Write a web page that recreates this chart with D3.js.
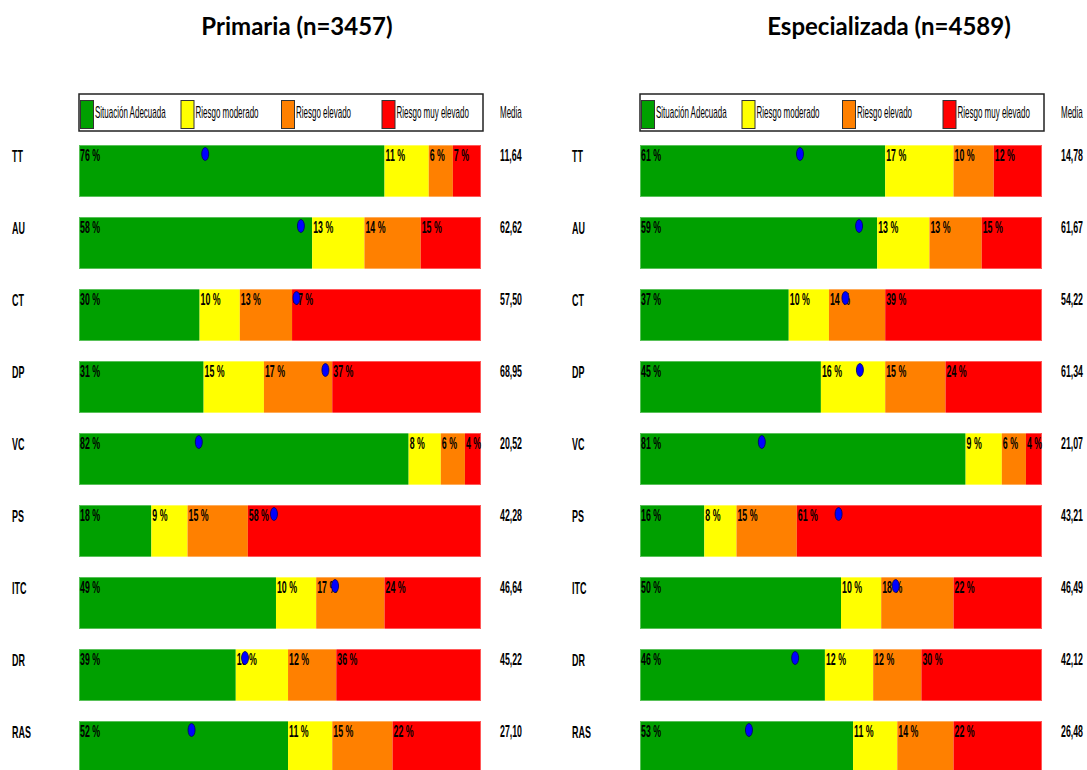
<!DOCTYPE html>
<html><head><meta charset="utf-8">
<script src="https://cdn.jsdelivr.net/npm/d3@7"></script>
<style>
html,body{margin:0;padding:0;background:#fff;}
svg{display:block;}
</style></head>
<body>
<svg id="chart" width="1087" height="770"></svg>
<script>
const categories = ["TT","AU","CT","DP","VC","PS","ITC","DR","RAS"];
const levels = ["Situación Adecuada","Riesgo moderado","Riesgo elevado","Riesgo muy elevado"];
const levelColors = ["#00a000","#ffff00","#ff8000","#ff0000"];

const primTitle = "Primaria (n=3457)";
const primAdecuada    = [76,58,30,31,82,18,49,39,52];
const primModerado    = [11,13,10,15, 8, 9,10,13,11];
const primElevado     = [ 6,14,13,17, 6,15,17,12,15];
const primMuyElevado  = [ 7,15,47,37, 4,58,24,36,22];
const primMedia       = [11.64,62.62,57.50,68.95,20.52,42.28,46.64,45.22,27.10];
const primMarker      = [31.4,55.2,54.1,61.3,29.8,48.5,63.7,41.3,28.0];

const espTitle = "Especializada (n=4589)";
const espAdecuada     = [61,59,37,45,81,16,50,46,53];
const espModerado     = [17,13,10,16, 9, 8,10,12,11];
const espElevado      = [10,13,14,15, 6,15,18,12,14];
const espMuyElevado   = [12,15,39,24, 4,61,22,30,22];
const espMedia        = [14.78,61.67,54.22,61.34,21.07,43.21,46.49,42.12,26.48];
const espMarker       = [39.8,54.5,51.1,54.7,30.3,49.4,63.6,38.6,27.1];

const mediaHeader = "Media";

const svg = d3.select("#chart");
const FONT = "'Liberation Sans', Arial, sans-serif";

function condText(g, x, y, txt, size, sx, weight){
  return g.append("text")
    .attr("transform", `translate(${x},${y}) scale(${sx},1)`)
    .attr("font-family", FONT)
    .attr("font-size", size)
    .attr("font-weight", weight || "normal")
    .attr("fill", "#000")
    .text(txt);
}

function panel(cfg){
  const g = svg.append("g");
  const x = d3.scaleLinear().domain([0,100]).range([cfg.x0, cfg.x0 + 402]);
  const y = d3.scaleBand().domain(categories).range([145, 145 + 8*72 + 52]).paddingInner(20/72).paddingOuter(0);

  g.append("text")
    .attr("x", cfg.titleX).attr("y", 35)
    .attr("text-anchor","middle")
    .attr("font-family","Lato, 'Open Sans', sans-serif")
    .attr("font-weight","bold")
    .attr("font-size", 24)
    .attr("fill","#000")
    .text(cfg.title);

  const lx0 = x(0), lx1 = x(100);
  g.append("rect").attr("x", lx0).attr("y", 94).attr("width", lx1 - lx0 + 2).attr("height", 37)
    .attr("fill","#fff").attr("stroke","#222").attr("stroke-width",1.5);
  const itemW = (lx1 - lx0) / levels.length;
  levels.forEach((lv, i) => {
    const sx = lx0 + 1 + i*itemW;
    g.append("rect").attr("x", sx + 0.5).attr("y", 100.5).attr("width", 13).attr("height", 28)
      .attr("fill", levelColors[i]).attr("stroke","#333").attr("stroke-width",1);
    condText(g, sx + 15, 117.5, lv, 16, 0.5);
  });
  condText(g, cfg.mediaX, 117.5, mediaHeader, 16, 0.5);

  const series = [cfg.a, cfg.m, cfg.e, cfg.me];
  categories.forEach((cat, r) => {
    const top = y(cat);
    const h = y.bandwidth();
    let cum = 0;
    series.forEach((s, k) => {
      const v = s[r];
      g.append("rect")
        .attr("x", x(cum)).attr("y", top)
        .attr("width", x(cum + v) - x(cum)).attr("height", h)
        .attr("fill", levelColors[k]);
      cum += v;
    });
    g.append("rect").attr("x", x(0)+0.5).attr("y", top+0.5)
      .attr("width", x(100)-x(0)-1).attr("height", h-1)
      .attr("fill","none").attr("stroke","#fff").attr("stroke-opacity",0.35).attr("stroke-width",1);
    cum = 0;
    series.forEach((s, k) => {
      const v = s[r];
      condText(g, x(cum) + 1, top + 16, v + " %", 16, 0.55, "bold");
      cum += v;
    });
    g.append("ellipse")
      .attr("cx", x(cfg.marker[r])).attr("cy", top + 9)
      .attr("rx", 3.5).attr("ry", 6.5)
      .attr("fill","#0000ff").attr("stroke","#000060").attr("stroke-width",0.8);
    condText(g, cfg.labelX, top + 16.5, cat, 16, 0.56, "bold");
    condText(g, cfg.mediaX, top + 16, d3.format(".2f")(cfg.media[r]).replace(".", ","), 16, 0.55, "bold");
  });
}

panel({x0: 79, titleX: 297, title: primTitle, labelX: 12, mediaX: 500,
  a: primAdecuada, m: primModerado, e: primElevado, me: primMuyElevado,
  media: primMedia, marker: primMarker});
panel({x0: 640, titleX: 889, title: espTitle, labelX: 572, mediaX: 1061,
  a: espAdecuada, m: espModerado, e: espElevado, me: espMuyElevado,
  media: espMedia, marker: espMarker});
</script>
</body></html>
